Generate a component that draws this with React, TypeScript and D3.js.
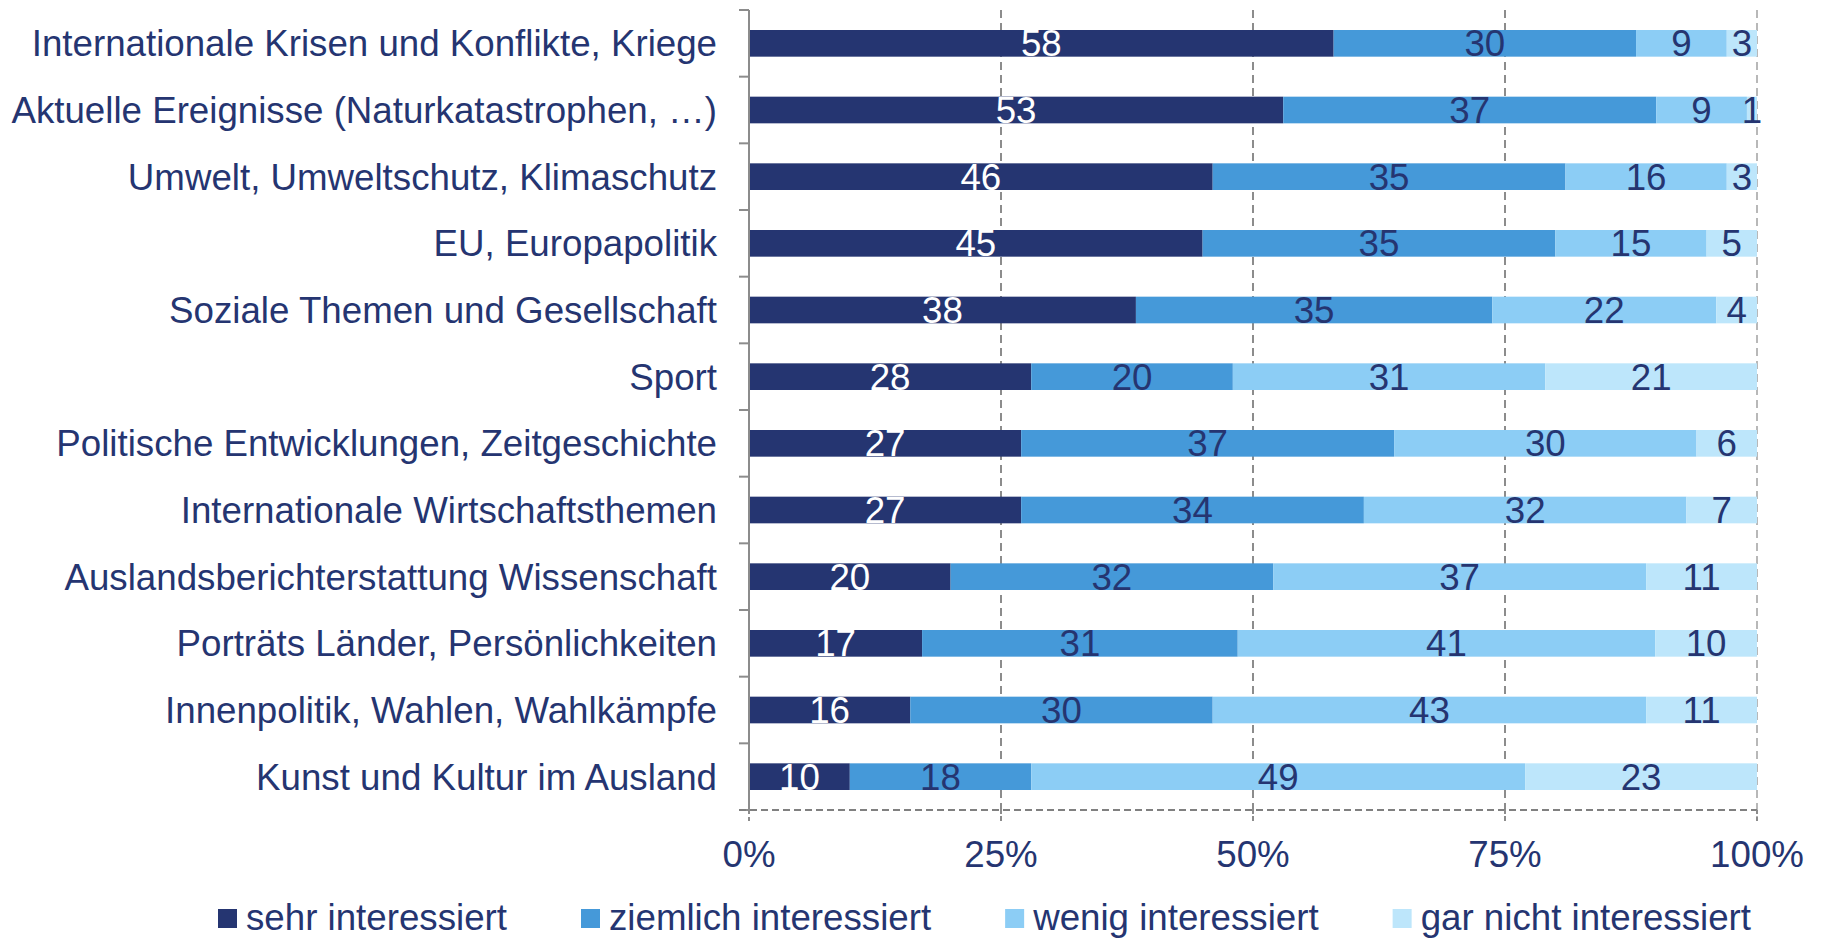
import { useEffect, useRef } from "react";
import * as d3 from "d3";

const categories = [
  "Internationale Krisen und Konflikte, Kriege",
  "Aktuelle Ereignisse (Naturkatastrophen, …)",
  "Umwelt, Umweltschutz, Klimaschutz",
  "EU, Europapolitik",
  "Soziale Themen und Gesellschaft",
  "Sport",
  "Politische Entwicklungen, Zeitgeschichte",
  "Internationale Wirtschaftsthemen",
  "Auslandsberichterstattung Wissenschaft",
  "Porträts Länder, Persönlichkeiten",
  "Innenpolitik, Wahlen, Wahlkämpfe",
  "Kunst und Kultur im Ausland",
];

const seriesNames = [
  "sehr interessiert",
  "ziemlich interessiert",
  "wenig interessiert",
  "gar nicht interessiert",
];

const sehr = [58, 53, 46, 45, 38, 28, 27, 27, 20, 17, 16, 10];
const ziemlich = [30, 37, 35, 35, 35, 20, 37, 34, 32, 31, 30, 18];
const wenig = [9, 9, 16, 15, 22, 31, 30, 32, 37, 41, 43, 49];
const garNicht = [3, 1, 3, 5, 4, 21, 6, 7, 11, 10, 11, 23];

const xTicks = [0, 0.25, 0.5, 0.75, 1];

const colors = ["#253571", "#4599d9", "#8ccdf5", "#bde6fb"];
const labelColors = ["#ffffff", "#253571", "#253571", "#253571"];
const textColor = "#253571";
const font = "'Liberation Sans', Arial, sans-serif";
const fontSize = "36.7px";

const App = () => {
  const svgRef = useRef<SVGSVGElement>(null);

  useEffect(() => {
    const width = 1821;
    const height = 938;
    const left = 749;
    const right = 1757;
    const top = 10;
    const bottom = 810;

    const svg = d3.select(svgRef.current);
    svg.selectAll("*").remove();
    svg.attr("width", width).attr("height", height);

    const series = [sehr, ziemlich, wenig, garNicht];
    const rows = categories.map((c, i) => {
      const vals = series.map((s) => s[i]);
      const total = d3.sum(vals);
      let acc = 0;
      const segs = vals.map((v, k) => {
        const s = { key: k, value: v, x0: acc / total, x1: (acc + v) / total };
        acc += v;
        return s;
      });
      return { category: c, segs };
    });

    const x = d3.scaleLinear().domain([0, 1]).range([left, right]);
    const y = d3
      .scaleBand()
      .domain(categories)
      .range([top, bottom])
      .paddingInner(0.6)
      .paddingOuter(0.3);

    // gridlines
    svg
      .append("g")
      .selectAll("line")
      .data(xTicks.filter((t) => t > 0))
      .enter()
      .append("line")
      .attr("x1", (d) => x(d))
      .attr("x2", (d) => x(d))
      .attr("y1", top)
      .attr("y2", bottom + 11)
      .attr("stroke", (d) => (d === 1 ? "#b8b8b8" : "#8c8c8c"))
      .attr("stroke-width", 2)
      .attr("stroke-dasharray", "8,5");

    // bars
    const rowG = svg
      .append("g")
      .selectAll("g")
      .data(rows)
      .enter()
      .append("g")
      .attr("transform", (d) => `translate(0,${y(d.category)})`);

    rowG
      .selectAll("rect")
      .data((d) => d.segs)
      .enter()
      .append("rect")
      .attr("x", (d) => x(d.x0))
      .attr("width", (d) => x(d.x1) - x(d.x0))
      .attr("height", y.bandwidth())
      .attr("fill", (d) => colors[d.key]);

    rowG
      .selectAll("text")
      .data((d) => d.segs)
      .enter()
      .append("text")
      .attr("x", (d) => (x(d.x0) + x(d.x1)) / 2)
      .attr("y", y.bandwidth() / 2 + 13)
      .attr("text-anchor", "middle")
      .style("font-family", font)
      .style("font-size", fontSize)
      .style("fill", (d) => labelColors[d.key])
      .text((d) => d.value);

    // left axis
    const yAxis = svg.append("g");
    yAxis
      .append("line")
      .attr("x1", left)
      .attr("x2", left)
      .attr("y1", top)
      .attr("y2", bottom)
      .attr("stroke", "#8c8c8c")
      .attr("stroke-width", 2);
    const bounds = d3.range(categories.length + 1).map((i) => top + i * y.step());
    yAxis
      .selectAll(".tick")
      .data(bounds)
      .enter()
      .append("line")
      .attr("x1", left - 10)
      .attr("x2", left)
      .attr("y1", (d) => d)
      .attr("y2", (d) => d)
      .attr("stroke", "#8c8c8c")
      .attr("stroke-width", 2);
    yAxis
      .selectAll("text")
      .data(categories)
      .enter()
      .append("text")
      .attr("x", left - 32)
      .attr("y", (d) => (y(d) as number) + y.bandwidth() / 2 + 13)
      .attr("text-anchor", "end")
      .style("font-family", font)
      .style("font-size", fontSize)
      .style("fill", textColor)
      .text((d) => d);

    // bottom axis
    const xAxis = svg.append("g");
    xAxis
      .append("line")
      .attr("x1", left - 10)
      .attr("x2", right)
      .attr("y1", bottom)
      .attr("y2", bottom)
      .attr("stroke", "#808080")
      .attr("stroke-width", 2)
      .attr("stroke-dasharray", "7,4");
    xAxis
      .selectAll("line.tick")
      .data(xTicks)
      .enter()
      .append("line")
      .attr("class", "tick")
      .attr("x1", (d) => x(d))
      .attr("x2", (d) => x(d))
      .attr("y1", bottom)
      .attr("y2", bottom + 11)
      .attr("stroke", "#8c8c8c")
      .attr("stroke-width", 2)
      .attr("stroke-dasharray", "4,3");
    xAxis
      .selectAll("text")
      .data(xTicks)
      .enter()
      .append("text")
      .attr("x", (d) => x(d))
      .attr("y", 867)
      .attr("text-anchor", "middle")
      .style("font-family", font)
      .style("font-size", fontSize)
      .style("fill", textColor)
      .text((d) => d3.format(".0%")(d));

    // legend
    const legend = svg.append("g");
    let lx = 218;
    seriesNames.forEach((name, k) => {
      legend
        .append("rect")
        .attr("x", lx)
        .attr("y", 909)
        .attr("width", 19)
        .attr("height", 19)
        .attr("fill", colors[k]);
      const t = legend
        .append("text")
        .attr("x", lx + 28)
        .attr("y", 930)
        .style("font-family", font)
        .style("font-size", fontSize)
        .style("fill", textColor)
        .text(name);
      const w = (t.node() as SVGTextElement).getComputedTextLength();
      lx = lx + 28 + w + 74;
    });
  }, []);

  return (
    <svg
      ref={svgRef}
      style={{ position: "absolute", left: 0, top: 0, background: "#fff" }}
    ></svg>
  );
};

export default App;
